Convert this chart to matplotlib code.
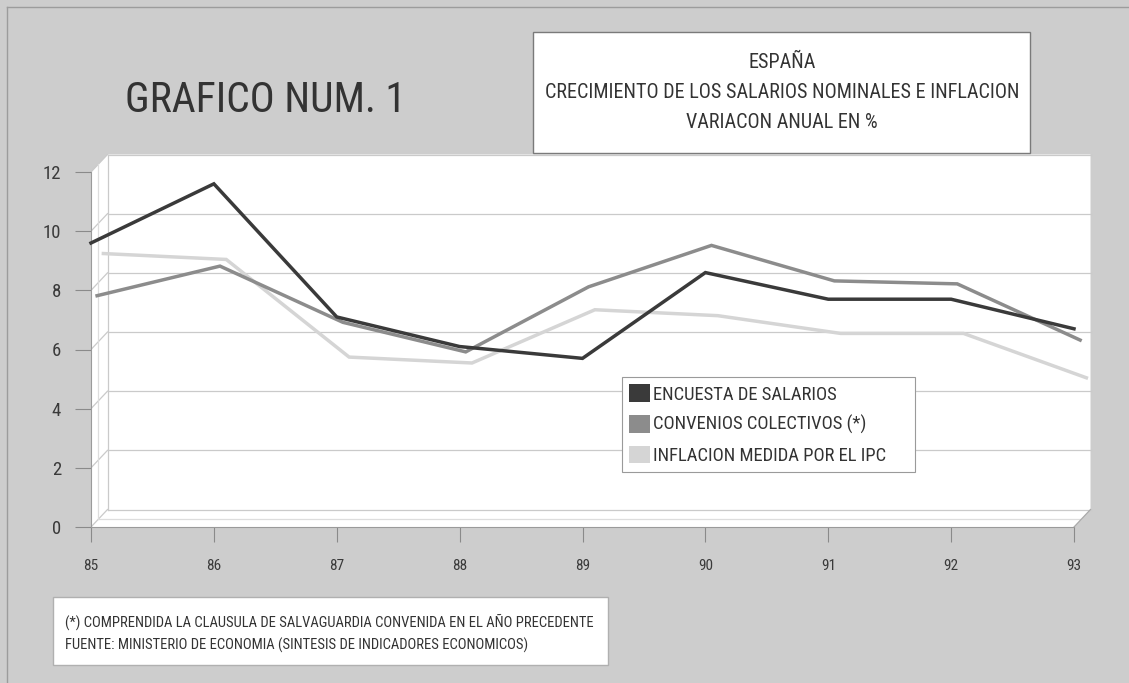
import matplotlib
matplotlib.use('Agg')
import matplotlib.pyplot as plt
from matplotlib.patches import Rectangle, Polygon, Patch
from matplotlib.lines import Line2D
from matplotlib.transforms import offset_copy

# data
years = [85, 86, 87, 88, 89, 90, 91, 92, 93]
year_labels = ['85', '86', '87', '88', '89', '90', '91', '92', '93']
encuesta = [9.6, 11.6, 7.1, 6.1, 5.7, 8.6, 7.7, 7.7, 6.7]
convenios = [7.6, 8.6, 6.7, 5.7, 7.9, 9.3, 8.1, 8.0, 6.1]
ipc = [8.8, 8.6, 5.3, 5.1, 6.9, 6.7, 6.1, 6.1, 4.6]
series_names = ['ENCUESTA DE SALARIOS', 'CONVENIOS COLECTIVOS (*)', 'INFLACION MEDIDA POR EL IPC']
y_ticks = [0, 2, 4, 6, 8, 10, 12]

title_main = 'GRAFICO NUM. 1'
title_box = ['ESPAÑA', 'CRECIMIENTO DE LOS SALARIOS NOMINALES E INFLACION', 'VARIACON ANUAL EN %']
notes = ['(*) COMPRENDIDA LA CLAUSULA DE SALVAGUARDIA CONVENIDA EN EL AÑO PRECEDENTE',
         'FUENTE: MINISTERIO DE ECONOMIA (SINTESIS DE INDICADORES ECONOMICOS)']

W, H = 1129, 683
# narrow fonts first, whatever is installed gets used
plt.rcParams['font.family'] = ['Roboto Condensed', 'Liberation Sans Narrow', 'Arial Narrow',
                               'Liberation Sans', 'DejaVu Sans']

fig = plt.figure(figsize=(W / 100, H / 100), dpi=100)
fig.patch.set_facecolor('#cdcdcd')

def fx(px):
    return px / W

def fy(py):
    return 1 - py / H

ax = fig.add_axes([fx(91), fy(527), 983 / W, 355 / H])
ax.set_xlim(85, 93)
ax.set_ylim(0, 12)
ax.patch.set_visible(False)

# depth of the fake 3d box, in pixels
DX, DY = 16.5, 17.5
dxd = DX / (983 / 8)
dyd = DY / (355 / 12)
back = offset_copy(ax.transData, x=DX, y=DY, units='dots')
mid = offset_copy(ax.transData, x=DX * 0.45, y=DY * 0.45, units='dots')

box = Polygon([(85, 0), (85, 12), (85 + dxd, 12 + dyd), (93 + dxd, 12 + dyd),
               (93 + dxd, dyd), (93, 0)], closed=True, facecolor='white',
              edgecolor='none', zorder=0.5, clip_on=False)
ax.add_patch(box)

grid_c = '#cacaca'
for v in y_ticks:
    ax.plot([85, 93], [v, v], transform=back, color=grid_c, lw=0.9, clip_on=False, zorder=1)
    ax.plot([85, 85 + dxd], [v, v + dyd], color=grid_c, lw=0.9, clip_on=False, zorder=1)
ax.plot([85, 85], [0, 12], transform=back, color=grid_c, lw=0.9, clip_on=False, zorder=1)
ax.plot([85, 85], [0, 12], transform=mid, color='#dddddd', lw=0.9, clip_on=False, zorder=1)
ax.plot([85, 93], [0, 0], transform=mid, color='#dddddd', lw=0.9, clip_on=False, zorder=1)
ax.plot([93, 93 + dxd], [0, dyd], color='#aaaaaa', lw=0.9, clip_on=False, zorder=1)

# lines, each series sits a bit deeper in the box
depth = [0.0, 0.37, 0.75]
colors = ['#3a3a3a', '#8c8c8c', '#d5d5d5']
data = [encuesta, convenios, ipc]
for i in [2, 1, 0]:
    tr = offset_copy(ax.transData, x=DX * depth[i], y=DY * depth[i], units='dots')
    ax.plot(years, data[i], transform=tr, color=colors[i], lw=2.5,
            solid_joinstyle='miter', clip_on=False, zorder=3 + (2 - i))

ax.set_yticks(y_ticks)
ax.set_yticklabels([str(v) for v in y_ticks])
ax.set_xticks(years)
ax.set_xticklabels(year_labels)
ax.tick_params(axis='y', length=11.5, width=0.8, color='#8a8a8a', pad=10,
               labelsize=13.5, labelcolor='#3a3a3a')
ax.tick_params(axis='x', length=11, width=0.8, color='#8a8a8a', pad=12,
               labelsize=11, labelcolor='#3a3a3a')
for s in ['top', 'right']:
    ax.spines[s].set_visible(False)
for s in ['left', 'bottom']:
    ax.spines[s].set_color('#9a9a9a')
    ax.spines[s].set_linewidth(0.8)
ax.spines['left'].set_zorder(2)
ax.spines['bottom'].set_zorder(2)

handles = [Patch(facecolor=c, edgecolor='none') for c in colors]
leg = fig.legend(handles, series_names, loc='upper left', mode='expand',
                 bbox_to_anchor=(fx(622), fy(468), (915 - 622) / W, (468 - 377) / H),
                 frameon=True, fancybox=False,
                 edgecolor='#9a9a9a', facecolor='white', framealpha=1, fontsize=13.4,
                 handlelength=1.1, handleheight=1.1, handletextpad=0.15,
                 labelspacing=0.6, borderpad=0.4, borderaxespad=0)
leg.get_frame().set_linewidth(0.8)
for t in leg.get_texts():
    t.set_color('#333333')

# title and boxes
fig.text(fx(265), fy(100), title_main, ha='center', va='center', fontsize=30, color='#333333')

fig.add_artist(Rectangle((fx(533), fy(153)), (1030 - 533) / W, (153 - 32) / H,
                         transform=fig.transFigure, facecolor='white',
                         edgecolor='#7a7a7a', lw=1))
for txt, py in zip(title_box, [63, 93, 122]):
    fig.text(fx(782), fy(py), txt, ha='center', va='center', fontsize=14.5, color='#333333')

fig.add_artist(Rectangle((fx(53), fy(665)), (608 - 53) / W, (665 - 597) / H,
                         transform=fig.transFigure, facecolor='white',
                         edgecolor='#b0b0b0', lw=1))
for txt, py in zip(notes, [622, 645]):
    fig.text(fx(65), fy(py), txt, ha='left', va='center', fontsize=10.5, color='#333333')

# page frame of the scan
fig.add_artist(Line2D([fx(7), fx(7)], [0, fy(7)], transform=fig.transFigure, color='#9c9c9c', lw=1))
fig.add_artist(Line2D([fx(7), 1], [fy(7), fy(7)], transform=fig.transFigure, color='#9c9c9c', lw=1))

fig.savefig('out.png', dpi=100, facecolor=fig.get_facecolor())
